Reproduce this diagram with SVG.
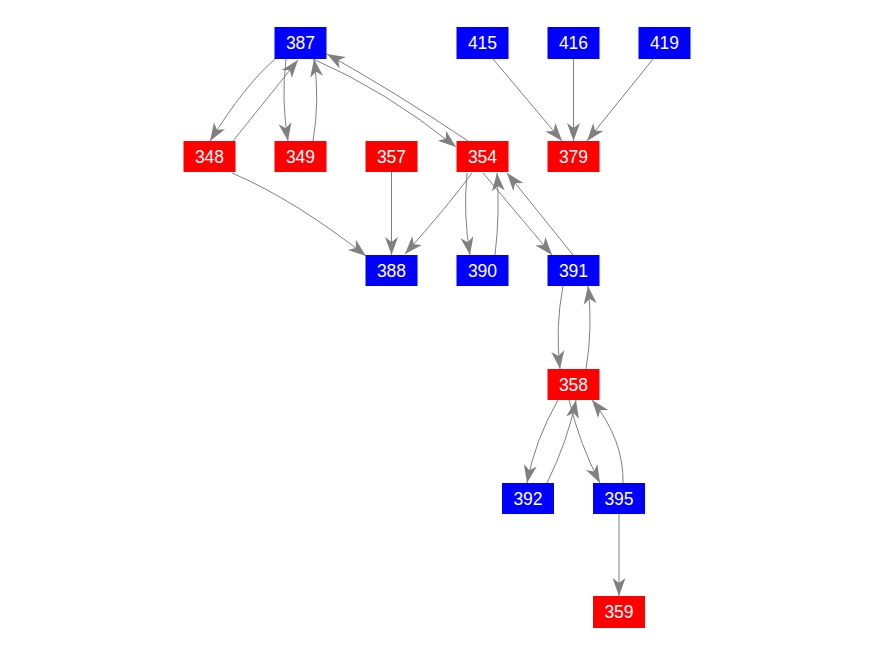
<svg xmlns="http://www.w3.org/2000/svg" width="876" height="656" viewBox="0 0 876 656">
<style>
.n rect{stroke:none}
.b rect{fill:#0000ff}
.r rect{fill:#ff0000}
.n text{fill:#ffffff;font-family:"Liberation Sans",Arial,sans-serif;font-size:17.5px;text-anchor:middle}
#edges path{fill:none;stroke:#808080;stroke-width:1;marker-end:url(#ah)}
</style>
<defs>
<marker id="ah" markerUnits="userSpaceOnUse" orient="auto" markerWidth="24" markerHeight="18" refX="20" refY="9" overflow="visible">
<path d="M20,9 L2,2.5 L7,9 L2,15.5 Z" fill="#808080" stroke="none"/>
</marker>
</defs>
<rect width="876" height="656" fill="#ffffff"/>
<g id="edges">
<path d="M275,59 Q245,85 210,141"/>
<path d="M233,141 L298,60"/>
<path d="M286,59 Q281,100 288,141"/>
<path d="M313,141 Q320,100 314,59"/>
<path d="M313,59 Q385,90 456,147"/>
<path d="M468,141 Q395,92 327,54"/>
<path d="M493,59 L562,141"/>
<path d="M573.5,59 L573.5,141"/>
<path d="M653,59 L587,141"/>
<path d="M232,173 Q295,200 366,256"/>
<path d="M391.5,172 L391.5,255"/>
<path d="M472,173 Q447,207 405,254"/>
<path d="M467,173 Q463,214 470,255"/>
<path d="M495,255 Q500,214 497,173"/>
<path d="M483,173 L552,255"/>
<path d="M573,255 L507,173"/>
<path d="M563,286 Q555,328 560,369"/>
<path d="M586,369 Q593,328 588,286"/>
<path d="M558,400 Q535,440 527,483"/>
<path d="M547,483 Q568,440 576,400"/>
<path d="M569,400 Q580,445 600,483"/>
<path d="M623,483 Q624,440 592,400"/>
<path d="M619,514 L619,596"/>
</g>
<g id="n387" class="n b"><rect x="274.5" y="27" width="52" height="32"/><text x="300.5" y="49">387</text></g>
<g id="n415" class="n b"><rect x="456.5" y="27" width="52" height="32"/><text x="482.5" y="49">415</text></g>
<g id="n416" class="n b"><rect x="547.5" y="27" width="52" height="32"/><text x="573.5" y="49">416</text></g>
<g id="n419" class="n b"><rect x="638.5" y="27" width="52" height="32"/><text x="664.5" y="49">419</text></g>
<g id="n348" class="n r"><rect x="183.5" y="141" width="52" height="31"/><text x="209.5" y="162.5">348</text></g>
<g id="n349" class="n r"><rect x="274.5" y="141" width="52" height="31"/><text x="300.5" y="162.5">349</text></g>
<g id="n357" class="n r"><rect x="365.5" y="141" width="52" height="31"/><text x="391.5" y="162.5">357</text></g>
<g id="n354" class="n r"><rect x="456.5" y="141" width="52" height="31"/><text x="482.5" y="162.5">354</text></g>
<g id="n379" class="n r"><rect x="547.5" y="141" width="52" height="31"/><text x="573.5" y="162.5">379</text></g>
<g id="n388" class="n b"><rect x="365.5" y="255" width="52" height="31"/><text x="391.5" y="276.5">388</text></g>
<g id="n390" class="n b"><rect x="456.5" y="255" width="52" height="31"/><text x="482.5" y="276.5">390</text></g>
<g id="n391" class="n b"><rect x="547.5" y="255" width="52" height="31"/><text x="573.5" y="276.5">391</text></g>
<g id="n358" class="n r"><rect x="547.5" y="369" width="52" height="31"/><text x="573.5" y="390.5">358</text></g>
<g id="n392" class="n b"><rect x="502" y="483" width="52" height="31"/><text x="528" y="504.5">392</text></g>
<g id="n395" class="n b"><rect x="593" y="483" width="52" height="31"/><text x="619" y="504.5">395</text></g>
<g id="n359" class="n r"><rect x="593" y="596" width="52" height="32"/><text x="619" y="618">359</text></g>
</svg>
